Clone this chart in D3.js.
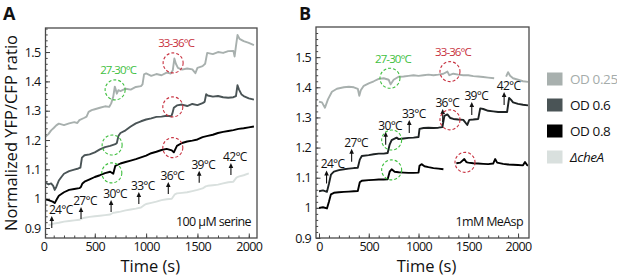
<!DOCTYPE html>
<html><head><meta charset="utf-8">
<script src="https://cdn.jsdelivr.net/npm/d3@7"></script>
<style>
body{margin:0;background:#fff;font-family:"Open Sans",sans-serif}
svg text{font-family:"Open Sans",sans-serif}
</style></head><body><div id="chart"></div>
<script>
// ---- data: [time (s), normalized YFP/CFP ratio] ----
const od025A=[[0,1.207],[25,1.213],[50,1.221],[75,1.233],[100,1.241],[125,1.25],[150,1.256],[200,1.251],[250,1.257],[300,1.261],[330,1.258],[350,1.268],[400,1.276],[420,1.28],[440,1.296],[470,1.302],[500,1.305],[550,1.31],[600,1.315],[640,1.313],[660,1.325],[680,1.348],[695,1.382],[705,1.371],[715,1.358],[730,1.37],[750,1.367],[800,1.375],[850,1.372],[900,1.381],[950,1.384],[965,1.39],[980,1.424],[1000,1.427],[1050,1.419],[1100,1.425],[1150,1.421],[1200,1.43],[1240,1.427],[1260,1.438],[1275,1.478],[1290,1.46],[1310,1.446],[1350,1.44],[1400,1.444],[1450,1.441],[1480,1.428],[1500,1.446],[1550,1.452],[1575,1.46],[1595,1.497],[1650,1.493],[1700,1.5],[1750,1.497],[1800,1.503],[1850,1.504],[1862,1.485],[1875,1.52],[1890,1.558],[1910,1.545],[1950,1.537],[2000,1.531],[2050,1.524]];
const od06A=[[0,1.05],[25,1.054],[50,1.049],[75,1.052],[95,1.044],[110,1.03],[125,1.04],[150,1.062],[175,1.074],[200,1.085],[250,1.094],[300,1.099],[340,1.103],[360,1.106],[375,1.14],[400,1.148],[450,1.151],[500,1.158],[550,1.168],[600,1.176],[650,1.18],[700,1.186],[715,1.19],[730,1.214],[750,1.224],[800,1.233],[850,1.246],[900,1.257],[950,1.264],[1000,1.27],[1050,1.274],[1100,1.279],[1150,1.28],[1200,1.283],[1245,1.281],[1255,1.29],[1270,1.31],[1300,1.318],[1350,1.321],[1400,1.316],[1450,1.323],[1500,1.319],[1550,1.326],[1570,1.33],[1585,1.356],[1600,1.352],[1650,1.348],[1700,1.35],[1750,1.346],[1800,1.344],[1850,1.346],[1875,1.35],[1890,1.387],[1905,1.372],[1930,1.355],[1950,1.35],[2000,1.342],[2050,1.338]];
const od08A=[[0,1.0],[25,0.997],[50,0.995],[90,0.99],[110,0.985],[130,0.998],[150,1.01],[200,1.022],[250,1.03],[300,1.033],[350,1.036],[365,1.04],[380,1.052],[400,1.058],[450,1.066],[500,1.074],[550,1.08],[600,1.087],[650,1.092],[680,1.085],[700,1.112],[750,1.12],[800,1.125],[850,1.13],[900,1.135],[950,1.141],[1000,1.147],[1050,1.155],[1100,1.16],[1150,1.166],[1200,1.17],[1250,1.165],[1270,1.158],[1300,1.18],[1350,1.19],[1400,1.195],[1450,1.198],[1500,1.202],[1550,1.21],[1600,1.214],[1650,1.218],[1700,1.224],[1750,1.228],[1800,1.231],[1850,1.234],[1900,1.238],[1950,1.24],[2000,1.243],[2050,1.246]];
const cheAA=[[50,0.91],[100,0.915],[150,0.918],[200,0.922],[250,0.924],[300,0.926],[350,0.928],[380,0.933],[400,0.935],[450,0.938],[500,0.94],[550,0.942],[600,0.944],[650,0.946],[680,0.952],[700,0.953],[750,0.956],[800,0.96],[850,0.963],[900,0.966],[950,0.97],[980,0.978],[1000,0.982],[1050,0.986],[1100,0.99],[1150,0.995],[1200,0.998],[1250,1.0],[1280,1.015],[1300,1.018],[1350,1.02],[1400,1.022],[1450,1.026],[1500,1.03],[1550,1.035],[1580,1.042],[1600,1.044],[1650,1.046],[1700,1.048],[1750,1.052],[1800,1.056],[1850,1.058],[1880,1.072],[1900,1.075],[1950,1.08],[2000,1.086]];

const od025B=[[0,1.352],[30,1.35],[60,1.332],[90,1.36],[130,1.385],[180,1.395],[250,1.4],[300,1.402],[350,1.4],[390,1.395],[405,1.372],[420,1.39],[450,1.405],[500,1.413],[550,1.42],[600,1.428],[650,1.43],[700,1.425],[720,1.41],[750,1.425],[800,1.435],[850,1.436],[900,1.438],[950,1.44],[1000,1.438],[1050,1.44],[1100,1.442],[1150,1.44],[1200,1.442],[1250,1.445],[1290,1.452],[1310,1.44],[1350,1.445],[1400,1.442],[1450,1.44],[1500,1.44],[1550,1.437],[1600,1.436],[1650,1.434],[1700,1.432],[1760,1.43],[1800,null],[1880,1.435],[1900,1.45],[1920,1.438],[1950,1.43],[2000,1.425],[2050,1.42],[2100,1.418]];
const od06B=[[0,1.055],[40,1.058],[80,1.053],[100,1.08],[120,1.11],[150,1.12],[200,1.125],[250,1.128],[300,1.13],[350,1.132],[390,1.133],[410,1.16],[430,1.172],[500,1.175],[550,1.178],[600,1.18],[650,1.18],[690,1.182],[710,1.21],[730,1.225],[780,1.233],[800,1.228],[850,1.23],[900,1.232],[950,1.233],[1000,1.235],[1010,1.262],[1050,1.265],[1100,1.266],[1150,1.265],[1200,1.266],[1240,1.268],[1260,1.305],[1290,1.31],[1320,1.298],[1350,1.295],[1400,1.293],[1450,1.292],[1490,1.275],[1510,1.292],[1550,1.293],[1600,1.295],[1620,1.33],[1650,1.328],[1700,1.322],[1750,1.32],[1800,1.318],[1850,1.318],[1890,1.318],[1910,1.365],[1930,1.358],[1950,1.35],[2000,1.345],[2050,1.342],[2100,1.34]];
const od08B=[[0,1.0],[40,1.002],[80,0.998],[100,1.02],[120,1.045],[150,1.05],[200,1.052],[250,1.053],[300,1.054],[350,1.055],[390,1.056],[410,1.085],[430,1.09],[500,1.092],[550,1.093],[600,1.094],[650,1.094],[690,1.095],[710,1.12],[730,1.128],[760,1.12],[800,1.118],[850,1.117],[900,1.116],[950,1.116],[1000,1.117],[1010,1.14],[1030,1.145],[1060,1.138],[1100,1.135],[1150,1.132],[1200,1.13],[1250,1.128],[1300,null],[1380,1.148],[1420,1.15],[1460,1.162],[1480,1.152],[1500,1.15],[1550,1.148],[1600,1.147],[1650,1.146],[1700,1.145],[1750,1.147],[1770,1.162],[1790,1.15],[1850,1.146],[1900,1.144],[1950,1.143],[2000,1.142],[2050,1.141],[2070,1.152],[2090,1.142],[2100,1.14]];

const legendNames=["OD 0.25","OD 0.6","OD 0.8","ΔcheA"];
const tempLabels=["24°C","27°C","30°C","33°C","36°C","39°C","42°C"];
const arrowTimeA=[81,366,659,929,1216,1517,1826];
const arrowValA=[0.900,0.931,0.955,0.982,1.016,1.054,1.081];
const arrowTimeB=[76,328,670,907,1243,1535,1860];
const arrowValB=[1.081,1.153,1.209,1.248,1.285,1.308,1.341];
const circleNames=["27-30°C","33-36°C"];
const circlesA=[[0,698,1.371],[0,669,1.183],[0,666,1.088],[1,1263,1.463],[1,1260,1.313],[1,1260,1.174]];
const circlesB=[[0,713,1.430],[0,730,1.225],[0,730,1.126],[1,1316,1.452],[1,1316,1.292],[1,1467,1.151]];
const yTicks=[0.9,1,1.1,1.2,1.3,1.4,1.5];
const xTicks=[0,500,1000,1500,2000];

const colors={"OD 0.25":"#a8b0ae","OD 0.6":"#4a5456","OD 0.8":"#000","ΔcheA":"#d9e0de"};
const circleColors=["#3fbf3f","#c83240"];

const svg=d3.select("#chart").append("svg").attr("width",617).attr("height",277);

function drawPanel(p){
  const x=d3.scaleLinear().domain(p.tDom).range([p.left,p.right]);
  const y=d3.scaleLinear().domain(p.vDom).range([p.bottom,p.top]);
  const g=svg.append("g");
  const clip="clip"+p.name;
  svg.append("clipPath").attr("id",clip).append("rect")
    .attr("x",p.left).attr("y",p.top).attr("width",p.right-p.left).attr("height",p.bottom-p.top);

  // minor ticks
  const yMinor=d3.range(Math.ceil(p.vDom[0]/0.02)*0.02,p.vDom[1],0.02);
  g.append("g").attr("transform",`translate(${p.left},0)`)
    .call(d3.axisLeft(y).tickValues(yMinor).tickSize(-2.2).tickFormat(""))
    .call(s=>s.select(".domain").remove());
  g.append("g").attr("transform",`translate(0,${p.bottom})`)
    .call(d3.axisBottom(x).tickValues(d3.range(100,2100,100)).tickSize(-2.5).tickFormat(""))
    .call(s=>s.select(".domain").remove());
  // major ticks
  g.append("g").attr("transform",`translate(${p.left},0)`)
    .call(d3.axisLeft(y).tickValues(yTicks).tickSize(-4.5).tickPadding(5)
      .tickFormat(d=>d===1?"1":d3.format(".1f")(d)))
    .call(s=>s.select(".domain").remove());
  g.append("g").attr("transform",`translate(0,${p.bottom})`)
    .call(d3.axisBottom(x).tickValues(xTicks).tickSize(-4.5).tickPadding(4).tickFormat(d3.format("d")))
    .call(s=>s.select(".domain").remove())
    .call(s=>s.selectAll(".tick line").attr("opacity",d=>x(d)<p.left?0:1));
  g.selectAll(".tick line").attr("stroke","#444").attr("stroke-width",1);
  g.selectAll(".tick text").attr("font-size",12.5).attr("letter-spacing","-0.6px").attr("fill","#111");

  // traces
  const line=d3.line().defined(d=>d[1]!=null).x(d=>x(d[0])).y(d=>y(d[1]));
  const tg=g.append("g").attr("clip-path",`url(#${clip})`);
  p.series.forEach(s=>{
    tg.append("path").datum(s.data).attr("d",line)
      .attr("fill","none").attr("stroke",s.color||colors[s.name])
      .attr("stroke-width",1.9).attr("stroke-linejoin","round");
  });

  // frame
  g.append("rect").attr("x",p.left).attr("y",p.top)
    .attr("width",p.right-p.left).attr("height",p.bottom-p.top)
    .attr("fill","none").attr("stroke","#4a4a4a").attr("stroke-width",1.3);

  // temperature arrows
  tempLabels.forEach((lab,i)=>{
    const ax=x(p.arrowT[i]), base=y(p.arrowV[i]), tip=base-p.arrowLen;
    g.append("line").attr("x1",ax).attr("x2",ax).attr("y1",base).attr("y2",tip+3)
      .attr("stroke","#111").attr("stroke-width",1.1);
    g.append("path").attr("d",`M${ax},${tip}L${ax-2.3},${tip+5}L${ax+2.3},${tip+5}Z`).attr("fill","#111");
    g.append("text").attr("x",ax+(i===0?p.firstDx:p.labelDx)).attr("y",tip-2)
      .attr("text-anchor","middle").attr("font-size",12).attr("letter-spacing","-0.7px")
      .attr("fill","#111").text(lab);
  });

  // dashed circles
  p.circles.forEach((c,i)=>{
    const cx=x(c[1]), cy=y(c[2]);
    g.append("circle").attr("cx",cx).attr("cy",cy).attr("r",10)
      .attr("fill","none").attr("stroke",circleColors[c[0]]).attr("stroke-width",1.1)
      .attr("stroke-dasharray","3 2");
    if(i===0||p.circles[i-1][0]!==c[0])
      g.append("text").attr("x",cx+3).attr("y",cy-15.5).attr("text-anchor","middle")
        .attr("font-size",11.5).attr("letter-spacing","-0.9px")
        .attr("fill",circleColors[c[0]]).text(circleNames[c[0]]);
  });

  g.append("text").attr("x",p.right-6).attr("y",p.bottom-12).attr("text-anchor","end")
    .attr("font-size",12.5).attr("letter-spacing","-0.6px").attr("fill","#111").text(p.note);
  g.append("text").attr("x",(p.left+p.right)/2+p.titleDx).attr("y",272).attr("text-anchor","middle")
    .attr("font-size",16.5).attr("fill","#111").text("Time (s)");
  svg.append("text").attr("x",p.letterX).attr("y",20).attr("font-size",18)
    .attr("font-weight",700).attr("fill","#111").text(p.name);
}

drawPanel({name:"A",left:45.5,right:257,top:28,bottom:238,tDom:[20,2080],vDom:[0.866,1.582],
  series:[{name:"ΔcheA",data:cheAA},{name:"OD 0.25",data:od025A},{name:"OD 0.6",data:od06A},{name:"OD 0.8",data:od08A}],
  arrowT:arrowTimeA,arrowV:arrowValA,arrowLen:12,firstDx:9,labelDx:4,
  circles:circlesA,note:"100 µM serine",titleDx:-1,letterX:3});
drawPanel({name:"B",left:316,right:529,top:27,bottom:238,tDom:[-30,2110],vDom:[0.9,1.6],
  series:[{name:"OD 0.25",data:od025B},{name:"OD 0.6",data:od06B,color:"#1d2223"},{name:"OD 0.8",data:od08B}],
  arrowT:arrowTimeB,arrowV:arrowValB,arrowLen:13,firstDx:6,labelDx:4.5,
  circles:circlesB,note:"1mM MeAsp",titleDx:4,letterX:299});

// y-axis title
svg.append("text").attr("transform","translate(17,133) rotate(-90)").attr("text-anchor","middle")
  .attr("font-size",16.5).attr("fill","#111").text("Normalized YFP/CFP ratio");

// legend
const lg=svg.append("g");
legendNames.forEach((n,i)=>{
  const cy=79+i*26;
  lg.append("rect").attr("x",547).attr("y",cy-6.5).attr("width",15.5).attr("height",13).attr("fill",colors[n]);
  lg.append("text").attr("x",570).attr("y",cy+5).attr("font-size",13.5).attr("letter-spacing","-0.4px")
    .attr("font-style",n==="ΔcheA"?"italic":"normal")
    .attr("fill",n==="OD 0.25"?"#a5acaa":"#111").text(n);
});
</script></body></html>
